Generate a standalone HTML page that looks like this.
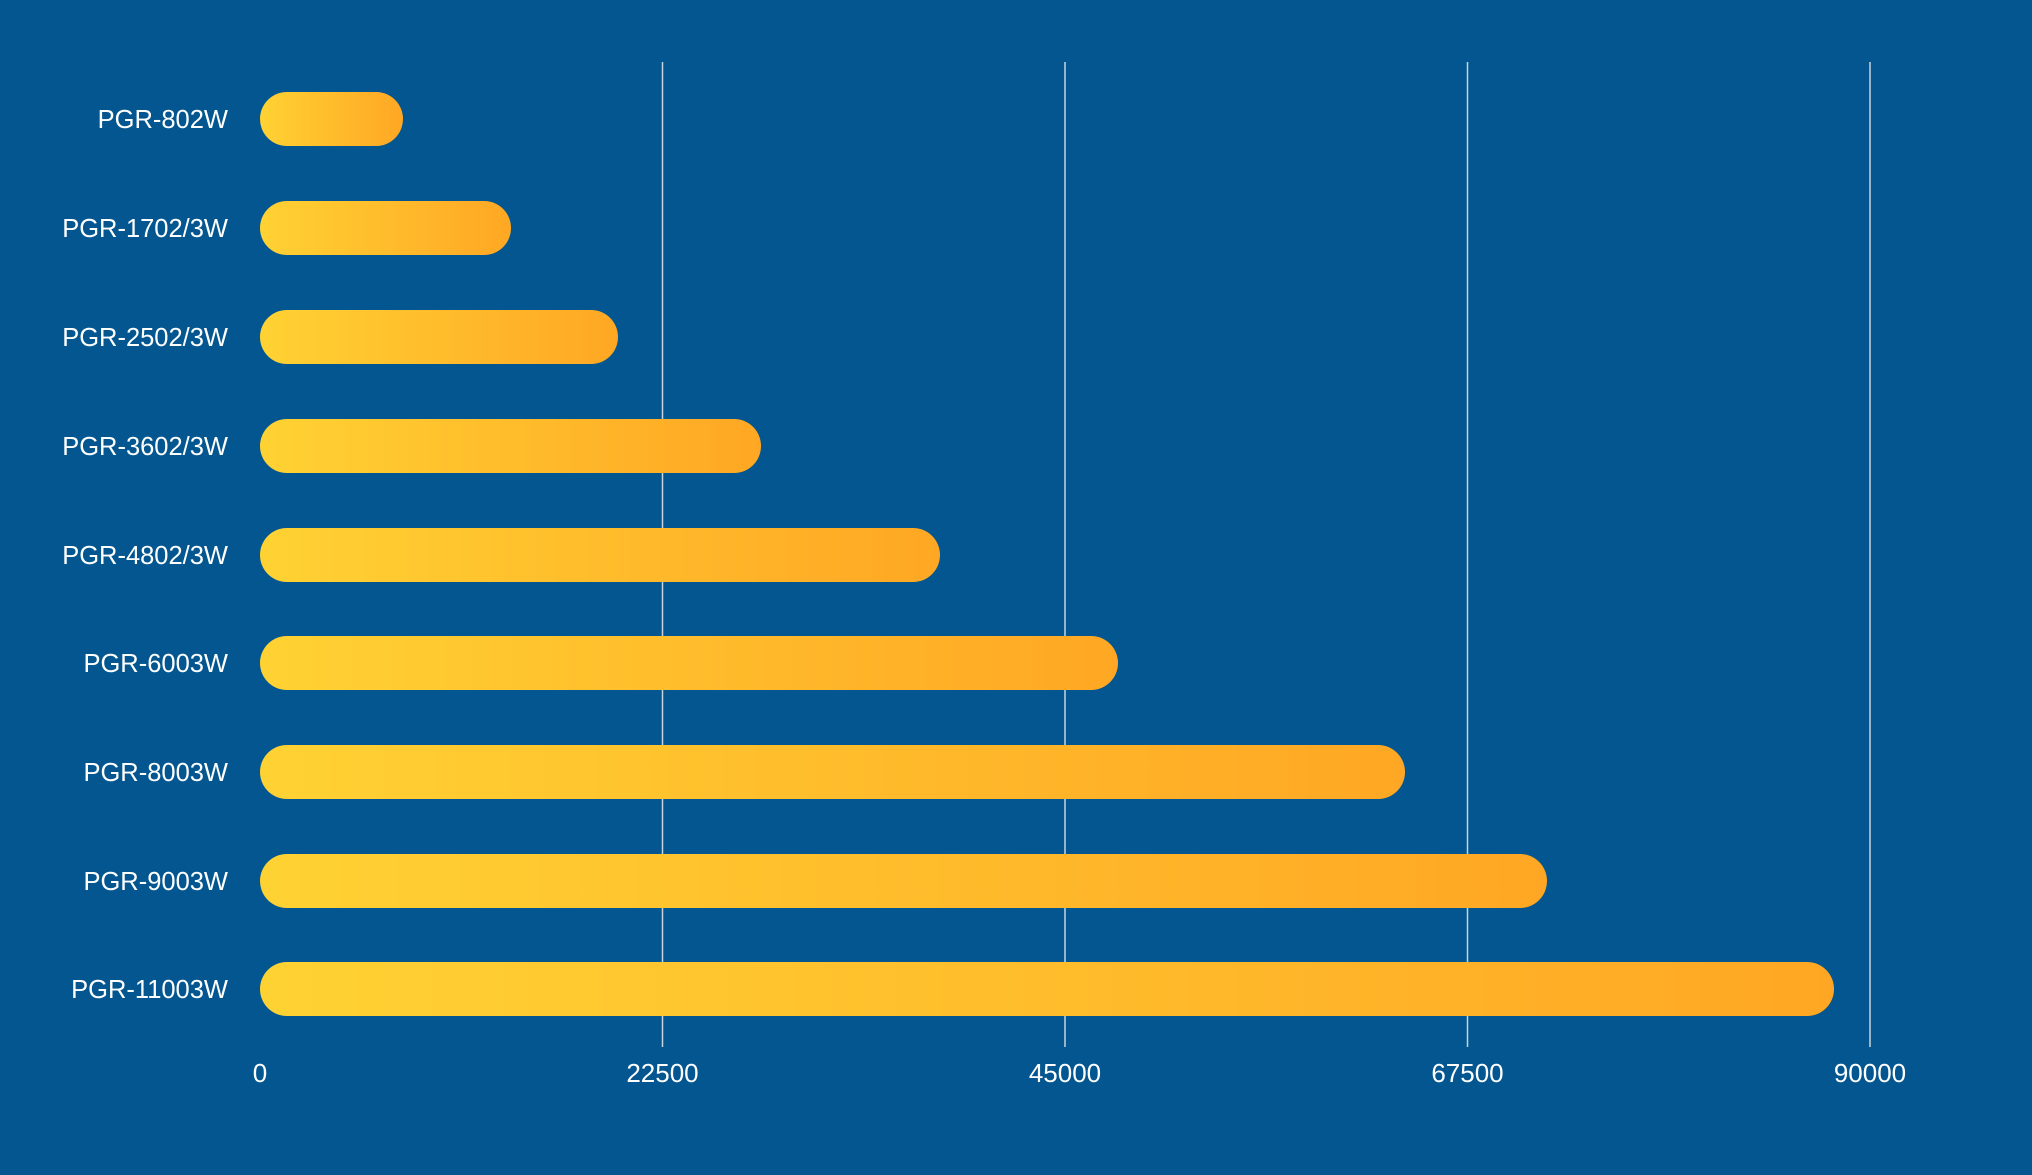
<!DOCTYPE html>
<html><head><meta charset="utf-8"><style>
html,body{margin:0;padding:0;background:#03568f;}
svg{display:block;}
text{font-family:"Liberation Sans",sans-serif;fill:#fff;font-size:25.5px;}
.t{font-size:26px;}
</style></head><body>
<svg width="2032" height="1175" viewBox="0 0 2032 1175" xmlns="http://www.w3.org/2000/svg">
<defs>
<linearGradient id="g" x1="0" y1="0" x2="1" y2="0">
<stop offset="0" stop-color="#ffd233"/><stop offset="1" stop-color="#ffa724"/>
</linearGradient>
</defs>
<rect width="2032" height="1175" fill="#03568f"/>
<g stroke="#c9d3dc" stroke-width="1.5">
<line x1="662.5" y1="62" x2="662.5" y2="1047"/>
<line x1="1065" y1="62" x2="1065" y2="1047"/>
<line x1="1467.5" y1="62" x2="1467.5" y2="1047"/>
<line x1="1870" y1="62" x2="1870" y2="1047"/>
</g>
<g>
<rect x="260" y="92" width="143" height="54" rx="27" fill="url(#g)"/>
<rect x="260" y="201" width="251" height="54" rx="27" fill="url(#g)"/>
<rect x="260" y="310" width="358" height="54" rx="27" fill="url(#g)"/>
<rect x="260" y="419" width="501" height="54" rx="27" fill="url(#g)"/>
<rect x="260" y="528" width="680" height="54" rx="27" fill="url(#g)"/>
<rect x="260" y="636" width="858" height="54" rx="27" fill="url(#g)"/>
<rect x="260" y="745" width="1145" height="54" rx="27" fill="url(#g)"/>
<rect x="260" y="854" width="1287" height="54" rx="27" fill="url(#g)"/>
<rect x="260" y="962" width="1574" height="54" rx="27" fill="url(#g)"/>
</g>
<g text-anchor="end">
<text x="228" y="128">PGR-802W</text>
<text x="228" y="237">PGR-1702/3W</text>
<text x="228" y="346">PGR-2502/3W</text>
<text x="228" y="455">PGR-3602/3W</text>
<text x="228" y="564">PGR-4802/3W</text>
<text x="228" y="672">PGR-6003W</text>
<text x="228" y="781">PGR-8003W</text>
<text x="228" y="890">PGR-9003W</text>
<text x="228" y="998">PGR-11003W</text>
</g>
<g text-anchor="middle" class="t">
<text class="t" x="260" y="1082">0</text>
<text class="t" x="662.5" y="1082">22500</text>
<text class="t" x="1065" y="1082">45000</text>
<text class="t" x="1467.5" y="1082">67500</text>
<text class="t" x="1870" y="1082">90000</text>
</g>
</svg>
</body></html>
